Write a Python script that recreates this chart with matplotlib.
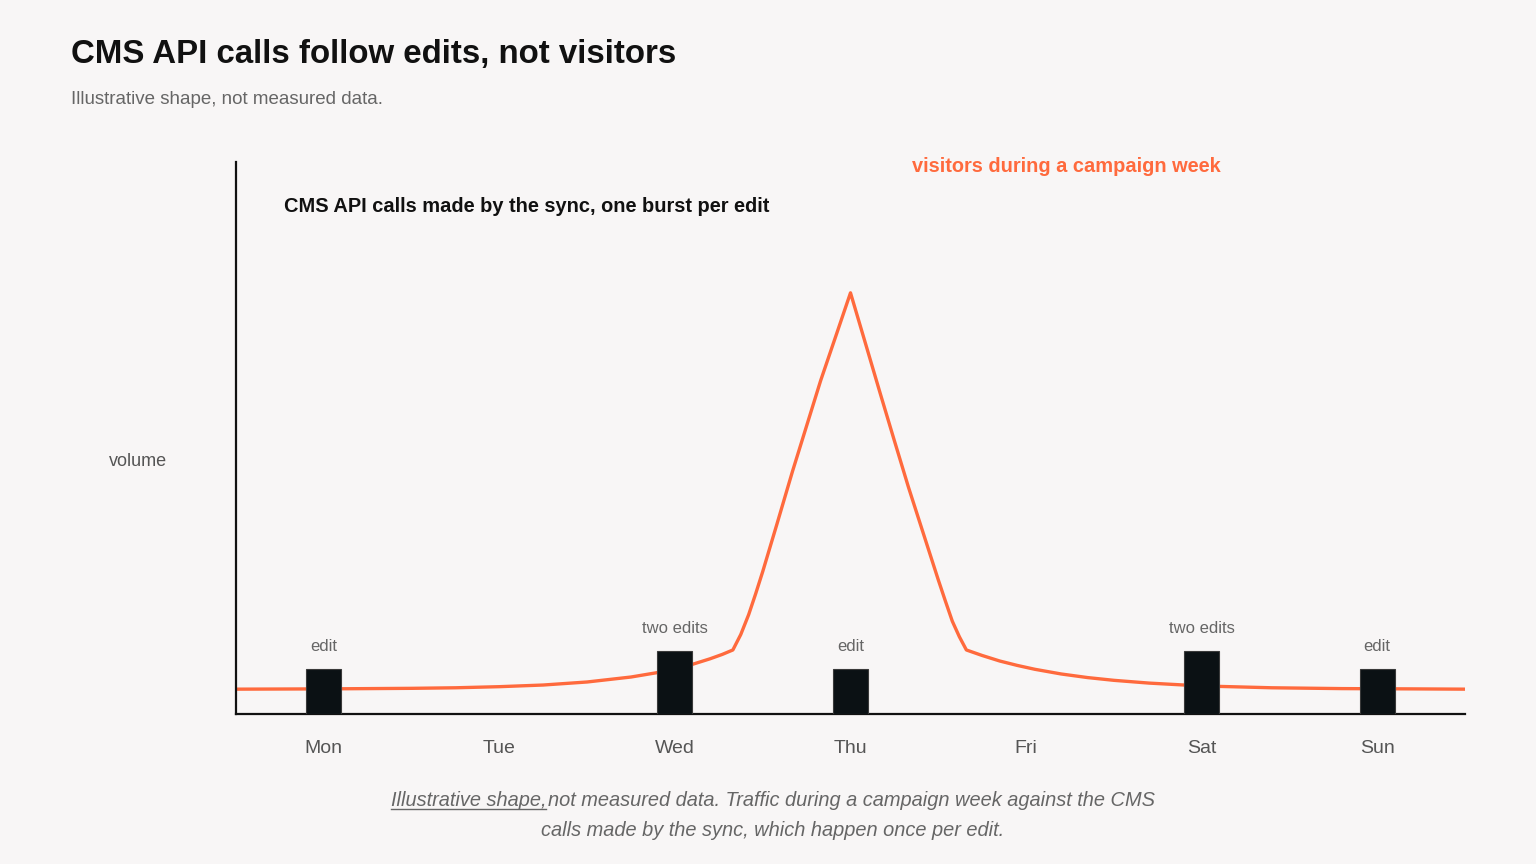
import matplotlib.pyplot as plt

# chart values
days = ["Mon", "Tue", "Wed", "Thu", "Fri", "Sat", "Sun"]

# visitors during the campaign week, x in days (Mon = 0)
visit_x = [-0.5, 0.0, 0.5, 0.75, 1.0, 1.25, 1.5, 1.75, 1.9, 2.0, 2.1, 2.2, 2.27, 2.33,
           2.375, 2.42, 2.46, 2.5, 2.58, 2.67, 2.75, 2.83, 2.92, 3.0,
           3.08, 3.17, 3.25, 3.33, 3.42, 3.5, 3.54, 3.58, 3.62, 3.66,
           3.75, 3.85, 3.95, 4.05, 4.2, 4.35, 4.5, 4.7, 4.9, 5.1, 5.4, 5.8, 6.2, 6.5]
visit_y = [4.5, 4.55, 4.65, 4.75, 4.95, 5.25, 5.8, 6.7, 7.5, 8.2, 9.0, 10.0, 10.8, 11.6,
           14.4, 18.0, 21.8, 25.8, 34.3, 44.0, 52.2, 60.4, 68.8, 76.3,
           67.7, 58.0, 49.5, 41.1, 32.2, 24.3, 20.5, 16.8, 14.0, 11.6,
           10.6, 9.6, 8.8, 8.1, 7.25, 6.6, 6.1, 5.6, 5.25, 5.0, 4.75, 4.6, 4.55, 4.5]

# CMS API calls, one burst per edit
edit_days = [0, 2, 3, 5, 6]
edit_calls = [8.2, 11.4, 8.2, 11.4, 8.2]
edit_labels = ["edit", "two edits", "edit", "two edits", "edit"]

BG = "#f8f6f6"
ORANGE = "#ff6a3d"
FONT = "Liberation Sans"

plt.rcParams["font.family"] = [FONT, "DejaVu Sans"]

fig = plt.figure(figsize=(15.36, 8.64), dpi=100, facecolor=BG)
ax = fig.add_axes([236 / 1536, 1 - 714 / 864, (1465 - 236) / 1536, (714 - 162) / 864])
ax.set_facecolor(BG)

ax.plot(visit_x, visit_y, color=ORANGE, lw=2.4, zorder=2)
ax.bar(edit_days, edit_calls, width=0.2, color="#0b1114", edgecolor="#3a3a3a",
       lw=0.8, zorder=3)
for d, h, lab in zip(edit_days, edit_calls, edit_labels):
    ax.annotate(lab, (d, h), xytext=(0, 10.5), textcoords="offset points",
                ha="center", va="bottom", fontsize=12, color="#666666")

ax.set_xlim(-0.5, 6.5)
ax.set_ylim(0, 100)
ax.set_xticks(range(len(days)), days)
ax.set_yticks([])
ax.tick_params(axis="x", length=0, pad=19, labelsize=14, labelcolor="#555555")
for s in ["top", "right"]:
    ax.spines[s].set_visible(False)
for s in ["left", "bottom"]:
    ax.spines[s].set_linewidth(1.6)
    ax.spines[s].set_color("#111111")

# titles and labels
fig.text(71 / 1536, 1 - 63 / 864, "CMS API calls follow edits, not visitors",
         fontsize=23.8, fontweight="bold", color="#111111", va="baseline")
fig.text(71 / 1536, 1 - 104 / 864, "Illustrative shape, not measured data.",
         fontsize=13.5, color="#666666", va="baseline")
fig.text(138 / 1536, 1 - 462 / 864, "volume", fontsize=13, color="#555555",
         ha="center", va="center")
fig.text(284 / 1536, 1 - 207 / 864, "CMS API calls made by the sync, one burst per edit",
         fontsize=14.4, fontweight="bold", color="#111111", va="center")
fig.text(912 / 1536, 1 - 167 / 864, "visitors during a campaign week",
         fontsize=14.4, fontweight="bold", color=ORANGE, va="center")

# caption, first words underlined
cap_style = dict(fontsize=14.4, style="italic", color="#666666", va="baseline")
renderer = fig.canvas.get_renderer()
t1 = fig.text(0, 0, "Illustrative shape,", **cap_style)
t2 = fig.text(0, 0, "not measured data. Traffic during a campaign week against the CMS",
              **cap_style)
w1 = t1.get_window_extent(renderer).width
w2 = t2.get_window_extent(renderer).width
gap = 2
x0 = 773 - (w1 + gap + w2) / 2
y1 = 864 - 806
t1.set_position((x0 / 1536, y1 / 864))
t2.set_position(((x0 + w1 + gap) / 1536, y1 / 864))
fig.add_artist(plt.Line2D([x0 / 1536, (x0 + w1) / 1536], [(y1 - 3) / 864] * 2,
                          color="#666666", lw=1))
fig.text(773 / 1536, 1 - 836 / 864, "calls made by the sync, which happen once per edit.",
         ha="center", **cap_style)

fig.savefig("out.png", dpi=100, facecolor=BG)
